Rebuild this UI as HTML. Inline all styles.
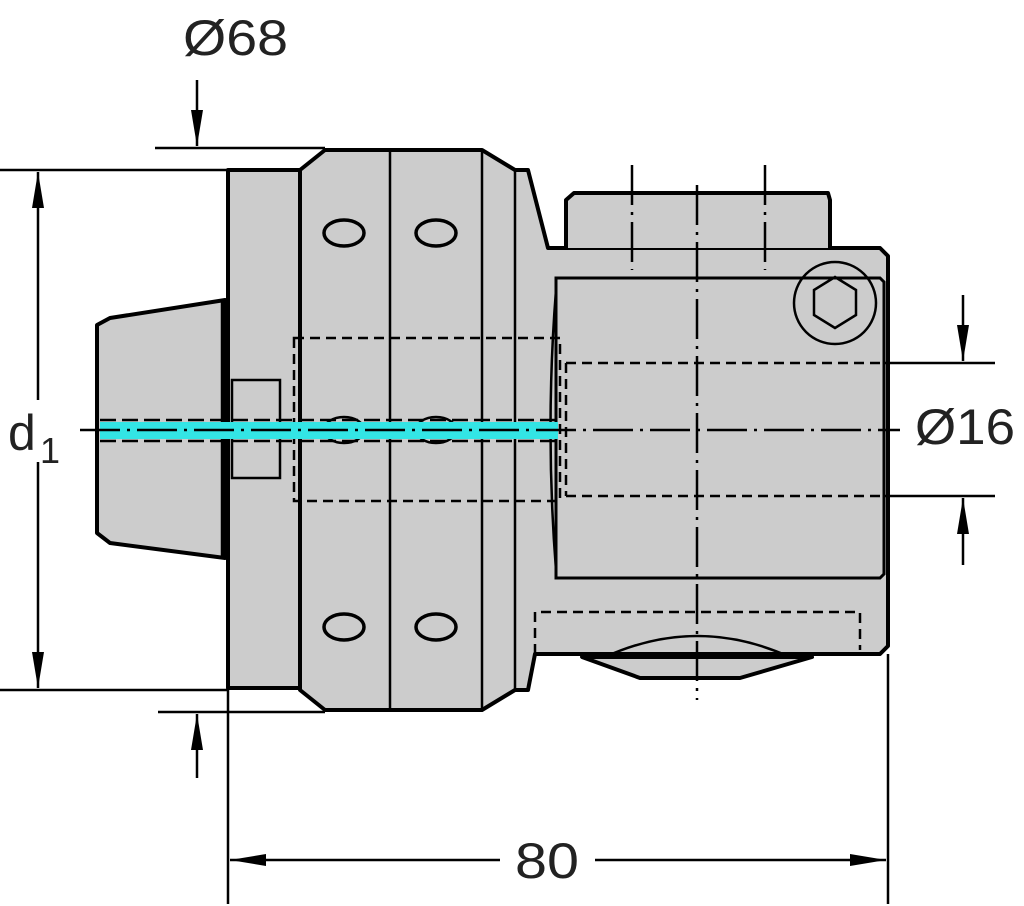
<!DOCTYPE html>
<html><head><style>html,body{margin:0;padding:0;background:#fff}svg{display:block}</style></head>
<body>
<svg width="1024" height="906" viewBox="0 0 1024 906" xmlns="http://www.w3.org/2000/svg">
<defs>
<marker id="a" viewBox="0 0 36 12" refX="36" refY="6" markerWidth="36" markerHeight="12" markerUnits="userSpaceOnUse" orient="auto"><path d="M0,0 L36,6 L0,12z" fill="#000"/></marker>
</defs>
<g fill="#cccccc" stroke="#000" stroke-width="4" stroke-linejoin="round">
<path d="M110,318 L225,300 L225,558 L110,543 L97,533 L97,325 Z"/>
<rect x="228" y="170" width="72" height="518"/>
<path d="M300,170 L325,150 L482,150 L515,170 L528,170 L548,248 L880,248 L888,256 L888,646 L880,654 L535,654 L528,690 L515,690 L482,710 L325,710 L300,690 Z"/>
<path d="M566,248 L566,200 L574,193 L828,193 L830,200 L830,248"/>
<path d="M582,657 L640,678 L740,678 L812,657 Z"/>
</g>
<g fill="none" stroke="#000" stroke-width="2.5">
<line x1="222" y1="302" x2="222" y2="556"/>
<line x1="390" y1="150" x2="390" y2="710"/>
<line x1="482" y1="150" x2="482" y2="710"/>
<line x1="515" y1="170" x2="515" y2="690"/>
<rect x="232" y="380" width="48" height="98"/>
<path d="M556,278 L880,278 L884,282 L884,574 L880,578 L556,578 Z" stroke-width="3"/>
<path d="M556,290 Q545,430 556,570"/>
<path d="M605,657 Q697,615 790,657"/>
<ellipse cx="344" cy="233" rx="20" ry="13" stroke-width="3.5"/>
<ellipse cx="436" cy="233" rx="20" ry="13" stroke-width="3.5"/>
<ellipse cx="344" cy="627" rx="20" ry="13" stroke-width="3.5"/>
<ellipse cx="436" cy="627" rx="20" ry="13" stroke-width="3.5"/>
<ellipse cx="344" cy="430" rx="20" ry="13"/>
<ellipse cx="436" cy="430" rx="20" ry="13"/>
<circle cx="835" cy="303" r="41"/>
<polygon points="835,277 856,290 856,315 835,328 814,315 814,290"/>
</g>
<g fill="none" stroke="#000" stroke-width="2.5" stroke-dasharray="10,6">
<rect x="294" y="338" width="266" height="163"/>
<line x1="566" y1="363" x2="885" y2="363"/>
<line x1="566" y1="496" x2="885" y2="496"/>
<line x1="566" y1="363" x2="566" y2="496"/>
<path d="M535,654 L535,612 L860,612 L860,650"/>
</g>
<rect x="100" y="422" width="458" height="17" fill="#33e5e5"/>
<g stroke="#000" stroke-width="2.5" stroke-dasharray="16,6">
<line x1="100" y1="420" x2="558" y2="420"/>
<line x1="100" y1="441" x2="558" y2="441"/>
</g>
<g stroke="#000" stroke-width="2.5" stroke-dasharray="40,7,3,7">
<line x1="80" y1="430" x2="900" y2="430"/>
<line x1="697" y1="185" x2="697" y2="700"/>
<line x1="632" y1="165" x2="632" y2="270"/>
<line x1="765" y1="165" x2="765" y2="270"/>
</g>
<g stroke="#000" stroke-width="2.5" fill="none">
<line x1="0" y1="170" x2="228" y2="170"/>
<line x1="0" y1="690" x2="228" y2="690"/>
<line x1="38" y1="400" x2="38" y2="172" marker-end="url(#a)"/>
<line x1="38" y1="462" x2="38" y2="688" marker-end="url(#a)"/>
<line x1="155" y1="148" x2="325" y2="148"/>
<line x1="158" y1="712" x2="325" y2="712"/>
<line x1="197" y1="80" x2="197" y2="146" marker-end="url(#a)"/>
<line x1="197" y1="778" x2="197" y2="714" marker-end="url(#a)"/>
<line x1="885" y1="363" x2="995" y2="363"/>
<line x1="885" y1="496" x2="995" y2="496"/>
<line x1="963" y1="295" x2="963" y2="361" marker-end="url(#a)"/>
<line x1="963" y1="565" x2="963" y2="498" marker-end="url(#a)"/>
<line x1="228" y1="690" x2="228" y2="904"/>
<line x1="888" y1="654" x2="888" y2="904"/>
<line x1="500" y1="860" x2="230" y2="860" marker-end="url(#a)"/>
<line x1="595" y1="860" x2="886" y2="860" marker-end="url(#a)"/>
</g>
<g font-family="Liberation Sans, sans-serif" font-size="50" fill="#222">
<text x="183" y="55" textLength="105" lengthAdjust="spacingAndGlyphs">Ø68</text>
<text x="915" y="444" textLength="100" lengthAdjust="spacingAndGlyphs">Ø16</text>
<text x="515" y="878" textLength="64" lengthAdjust="spacingAndGlyphs">80</text>
<text x="8" y="450">d</text>
<text x="40" y="463" font-size="36">1</text>
</g>
</svg>
</body></html>
